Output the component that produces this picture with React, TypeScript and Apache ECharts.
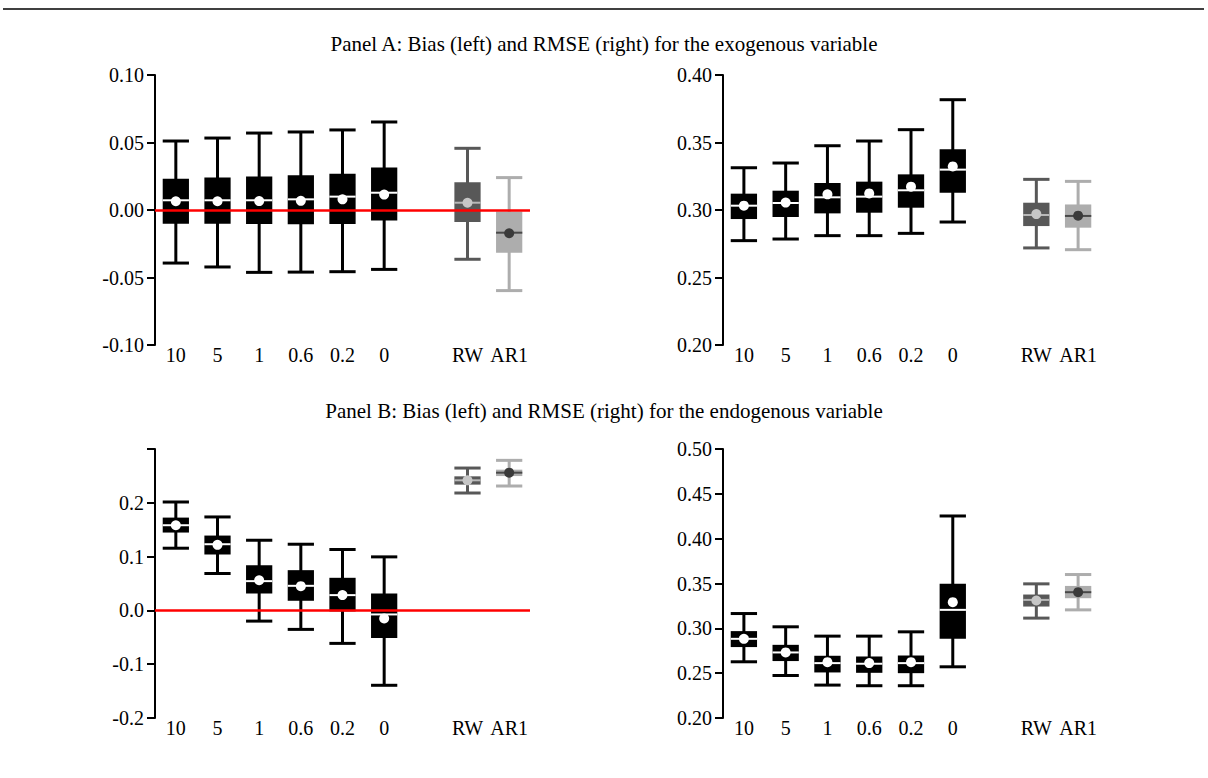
import React, { useEffect, useRef } from "react";
import * as echarts from "echarts";

// Category labels (index 6 is an empty slot between the models and the benchmarks)
const categories = ["10", "5", "1", "0.6", "0.2", "0", "", "RW", "AR1"];
const positions = [0, 1, 2, 3, 4, 5, 7, 8];

// Each row: [lower whisker, Q1, median, Q3, upper whisker, mean]
const biasExo = [
  [-0.0393, -0.0101, 0.0072, 0.0232, 0.0511, 0.0065],
  [-0.0422, -0.0101, 0.0072, 0.024, 0.0533, 0.0065],
  [-0.0462, -0.0104, 0.0072, 0.0249, 0.057, 0.0066],
  [-0.046, -0.0106, 0.0079, 0.0257, 0.0578, 0.0068],
  [-0.0457, -0.0104, 0.0099, 0.0269, 0.0593, 0.0079],
  [-0.044, -0.0077, 0.0128, 0.0314, 0.0652, 0.0114],
  [-0.0365, -0.0089, 0.0054, 0.0205, 0.0457, 0.0054],
  [-0.0597, -0.0316, -0.0168, -0.0012, 0.024, -0.0172],
];
const rmseExo = [
  [0.2773, 0.2933, 0.3032, 0.3121, 0.3313, 0.3032],
  [0.2785, 0.2948, 0.3052, 0.3143, 0.3348, 0.3055],
  [0.281, 0.2975, 0.3094, 0.32, 0.3476, 0.3116],
  [0.281, 0.298, 0.3099, 0.321, 0.3511, 0.3123],
  [0.2827, 0.3017, 0.3146, 0.3264, 0.3595, 0.3173],
  [0.2911, 0.3128, 0.3299, 0.345, 0.3817, 0.3323],
  [0.2719, 0.2881, 0.2963, 0.3054, 0.3227, 0.297],
  [0.2706, 0.2869, 0.2956, 0.3041, 0.3212, 0.2958],
];
const biasEndo = [
  [0.1156, 0.1447, 0.1583, 0.1725, 0.2015, 0.1583],
  [0.0686, 0.1039, 0.123, 0.1391, 0.1737, 0.1218],
  [-0.0199, 0.0315, 0.0544, 0.084, 0.1304, 0.056],
  [-0.0353, 0.0179, 0.0457, 0.0748, 0.123, 0.0451],
  [-0.0613, -0.0019, 0.0284, 0.0606, 0.1132, 0.0284],
  [-0.1392, -0.0514, -0.0075, 0.0315, 0.0995, -0.0149],
  [0.2182, 0.2338, 0.2418, 0.2492, 0.2646, 0.2418],
  [0.2312, 0.2497, 0.256, 0.2616, 0.2789, 0.256],
];
const rmseEndo = [
  [0.2627, 0.2791, 0.2883, 0.2969, 0.3165, 0.2883],
  [0.2474, 0.2635, 0.2731, 0.2816, 0.3017, 0.2731],
  [0.2367, 0.2508, 0.2612, 0.2694, 0.2913, 0.2623],
  [0.236, 0.2504, 0.2605, 0.2686, 0.2913, 0.2612],
  [0.236, 0.25, 0.2612, 0.2697, 0.2961, 0.2623],
  [0.2571, 0.2883, 0.3206, 0.3496, 0.4253, 0.3292],
  [0.3114, 0.3243, 0.3317, 0.3377, 0.3496, 0.331],
  [0.3206, 0.3336, 0.3403, 0.3473, 0.36, 0.3403],
];

const titleA = "Panel A: Bias (left) and RMSE (right) for the exogenous variable";
const titleB = "Panel B: Bias (left) and RMSE (right) for the endogenous variable";

const FONT = "Liberation Serif";

const palette: Record<number, { box: string; whisker: string; median: string; dot: string }> = {
  7: { box: "#585858", whisker: "#585858", median: "#b8b8b8", dot: "#c6c6c6" },
  8: { box: "#adadad", whisker: "#adadad", median: "#484848", dot: "#3a3a3a" },
};
const blackStyle = { box: "#000000", whisker: "#000000", median: "#ffffff", dot: "#ffffff" };

function renderBox(params: any, api: any) {
  const x = api.value(0);
  const lo = api.coord([x, api.value(1)]);
  const q1 = api.coord([x, api.value(2)]);
  const med = api.coord([x, api.value(3)]);
  const q3 = api.coord([x, api.value(4)]);
  const hi = api.coord([x, api.value(5)]);
  const mean = api.coord([x, api.value(6)]);
  const w = api.size([1, 0])[0] * 0.63;
  const cx = lo[0];
  const c = palette[x] || blackStyle;
  const lw = 3;
  return {
    type: "group",
    children: [
      { type: "line", shape: { x1: cx, y1: lo[1], x2: cx, y2: hi[1] }, style: { stroke: c.whisker, lineWidth: lw } },
      { type: "line", shape: { x1: cx - w / 2, y1: lo[1], x2: cx + w / 2, y2: lo[1] }, style: { stroke: c.whisker, lineWidth: lw } },
      { type: "line", shape: { x1: cx - w / 2, y1: hi[1], x2: cx + w / 2, y2: hi[1] }, style: { stroke: c.whisker, lineWidth: lw } },
      { type: "rect", shape: { x: cx - w / 2, y: q3[1], width: w, height: q1[1] - q3[1] }, style: { fill: c.box } },
      { type: "line", shape: { x1: cx - w / 2, y1: med[1], x2: cx + w / 2, y2: med[1] }, style: { stroke: c.median, lineWidth: 2 } },
      { type: "circle", shape: { cx: cx, cy: mean[1], r: 5 }, style: { fill: c.dot } },
    ],
  };
}

function toItems(rows: number[][], which: "black" | "gray") {
  const out: any[] = [];
  rows.forEach((r, i) => {
    const pos = positions[i];
    const isGray = pos >= 7;
    if ((which === "gray") === isGray) out.push([pos, r[0], r[1], r[2], r[3], r[4], r[5]]);
  });
  return out;
}

const grids = [
  { left: 155, top: 75, width: 375, height: 270 },
  { left: 723, top: 75, width: 376, height: 270 },
  { left: 155, top: 449, width: 375, height: 269 },
  { left: 723, top: 449, width: 376, height: 269 },
];

export default function App() {
  const ref = useRef<HTMLDivElement>(null);
  useEffect(() => {
    if (!ref.current) return;
    const chart = echarts.init(ref.current, null, { renderer: "svg" });
    const axesY = [
      { min: -0.1, max: 0.1, interval: 0.05, fmt: (v: number) => v.toFixed(2) },
      { min: 0.2, max: 0.4, interval: 0.05, fmt: (v: number) => v.toFixed(2) },
      { min: -0.2, max: 0.3, interval: 0.1, fmt: (v: number) => (v > 0.25 ? "" : v.toFixed(1)) },
      { min: 0.2, max: 0.5, interval: 0.05, fmt: (v: number) => v.toFixed(2) },
    ];
    const datasets = [biasExo, rmseExo, biasEndo, rmseEndo];
    const series: any[] = [];
    datasets.forEach((rows, gi) => {
      const isBias = gi === 0 || gi === 2;
      series.push({
        type: "custom",
        xAxisIndex: gi,
        yAxisIndex: gi,
        z: 2,
        renderItem: renderBox,
        encode: { x: 0, y: [1, 2, 3, 4, 5, 6] },
        data: toItems(rows, "gray"),
        silent: true,
        markLine: isBias
          ? {
              silent: true,
              symbol: "none",
              label: { show: false },
              lineStyle: { color: "#ff0000", width: 2.5, type: "solid" },
              data: [{ yAxis: 0 }],
            }
          : undefined,
      });
      series.push({
        type: "custom",
        xAxisIndex: gi,
        yAxisIndex: gi,
        z: 3,
        renderItem: renderBox,
        encode: { x: 0, y: [1, 2, 3, 4, 5, 6] },
        data: toItems(rows, "black"),
        silent: true,
      });
    });
    chart.setOption({
      animation: false,
      grid: grids,
      xAxis: grids.map((_, i) => ({
        type: "category",
        gridIndex: i,
        data: categories,
        boundaryGap: true,
        axisLine: { show: false },
        axisTick: { show: false },
        splitLine: { show: false },
        axisLabel: { color: "#000", fontFamily: FONT, fontSize: 20, margin: 0, interval: 0 },
      })),
      yAxis: axesY.map((a, i) => ({
        type: "value",
        gridIndex: i,
        min: a.min,
        max: a.max,
        interval: a.interval,
        splitLine: { show: false },
        axisLine: { show: true, lineStyle: { color: "#000", width: 2 } },
        axisTick: { show: true, length: 8, lineStyle: { color: "#000", width: 2 } },
        axisLabel: { color: "#000", fontFamily: FONT, fontSize: 20, margin: 11, formatter: a.fmt },
      })),
      graphic: [
        { type: "line", shape: { x1: 3, y1: 9, x2: 1204, y2: 9 }, style: { stroke: "#000", lineWidth: 1.5 } },
        {
          type: "text",
          x: 604,
          y: 44,
          style: { text: titleA, fontFamily: FONT, fontSize: 21, fill: "#000", textAlign: "center", textVerticalAlign: "middle" },
        },
        {
          type: "text",
          x: 604,
          y: 411,
          style: { text: titleB, fontFamily: FONT, fontSize: 21, fill: "#000", textAlign: "center", textVerticalAlign: "middle" },
        },
      ],
      series,
    });
    return () => chart.dispose();
  }, []);
  return (
    <div
      ref={ref}
      style={{ position: "fixed", left: 0, top: 0, width: 1208, height: 778, background: "#fff" }}
    />
  );
}
